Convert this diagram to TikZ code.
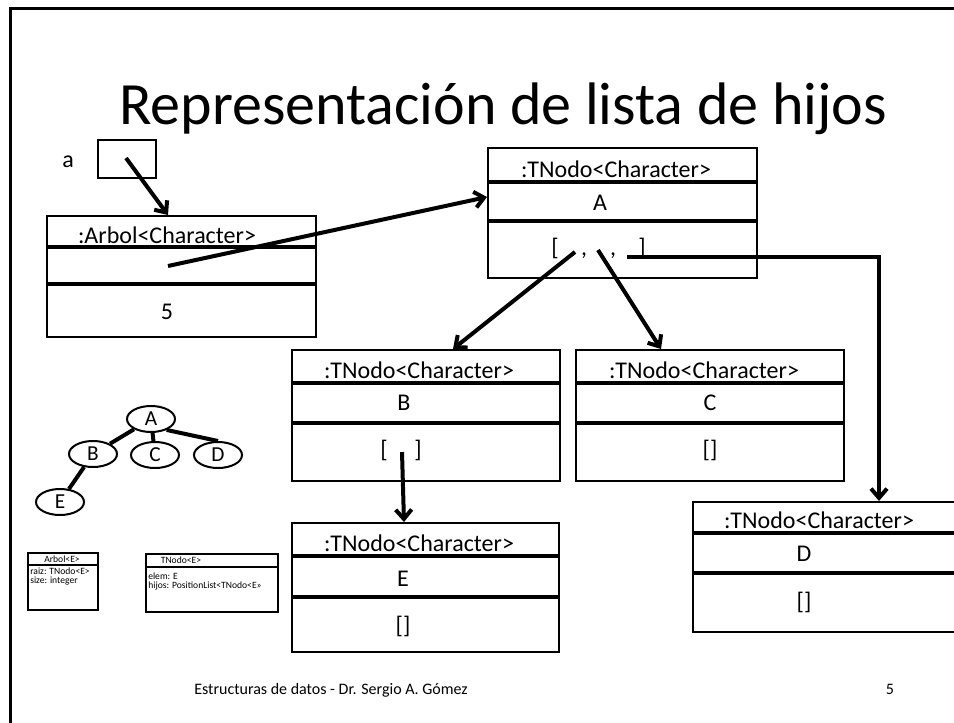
\documentclass[tikz,border=0pt]{standalone}
\usepackage{fontspec}
\setmainfont{Carlito}
\usetikzlibrary{arrows.meta,fit,shapes.geometric,calc}
\begin{document}
\begin{tikzpicture}[x=0.75pt,y=-0.75pt,
  box/.style={draw, line width=1.5pt, inner sep=0pt, rectangle},
  div/.style={line width=3.4pt},
  lbl/.style={font=\fontsize{18}{20}\selectfont, inner sep=0pt, anchor=base},
  ptr/.style={line width=3pt, -{Straight Barb[length=7pt,width=12pt]}},
  ell/.style={ellipse, draw, line width=1.5pt, minimum width=36pt, minimum height=19.5pt, inner sep=0pt, font=\fontsize{16}{18}\selectfont},
  tedge/.style={line width=3pt},
  ubox/.style={draw, line width=0.8pt, inner sep=0pt, rectangle},
  utxt/.style={font=\fontsize{7.2}{8}\selectfont, inner sep=0pt},
]
\path[use as bounding box] (0,0) rectangle (954,722);
\fill[white] (0,0) rectangle (954,722);
\clip (0,0) rectangle (954,722);
% frame
\draw[line width=2.25pt] (970,8) -- (10,8) -- (10,740);
% title
\node[anchor=base, font=\fontsize{45}{50}\selectfont, inner sep=0pt] (title) at (503,124) {Representación de lista de hijos};
% variable a
\node[lbl] (la) at (68,167) {a};
\node[box, fit={(98,140) (156,178)}] (va) {};
% Arbol box
\node[box, fit={(47,216) (316,337)}] (arbol) {};
\draw[div] (arbol.west |- 0,247) -- (arbol.east |- 0,247);
\draw[div] (arbol.west |- 0,284) -- (arbol.east |- 0,284);
\node[lbl] (arbolh) at (167,243) {:Arbol<Character>};
\node[lbl] (arbols) at (167,319) {5};
% Node A
\node[box, fit={(488,148) (757,278)}] (nA) {};
\draw[div] (nA.west |- 0,182) -- (nA.east |- 0,182);
\draw[div] (nA.west |- 0,221) -- (nA.east |- 0,221);
\node[lbl] (nAh) at (616,177) {:TNodo<Character>};
\node[lbl] (nAe) at (600,210) {A};
\node[lbl] (nAl1) at (555,255) {[};
\node[lbl] (nAc1) at (584,255) {,};
\node[lbl] (nAc2) at (613,255) {,};
\node[lbl] (nAl2) at (642,255) {]};
% Node B
\node[box, fit={(292,350) (560,481)}] (nB) {};
\draw[div] (nB.west |- 0,383) -- (nB.east |- 0,383);
\draw[div] (nB.west |- 0,423) -- (nB.east |- 0,423);
\node[lbl] (nBh) at (419,378) {:TNodo<Character>};
\node[lbl] (nBe) at (404,410) {B};
\node[lbl] (nBl1) at (384,457) {[};
\node[lbl] (nBl2) at (418,457) {]};
% Node C
\node[box, fit={(576,350) (844,481)}] (nC) {};
\draw[div] (nC.west |- 0,383) -- (nC.east |- 0,383);
\draw[div] (nC.west |- 0,423) -- (nC.east |- 0,423);
\node[lbl] (nCh) at (704,378) {:TNodo<Character>};
\node[lbl] (nCe) at (710,410) {C};
\node[lbl] (nCl) at (710,457) {[]};
% Node E
\node[box, fit={(292,523) (559,652)}] (nE) {};
\draw[div] (nE.west |- 0,556) -- (nE.east |- 0,556);
\draw[div] (nE.west |- 0,597) -- (nE.east |- 0,597);
\node[lbl] (nEh) at (419,551) {:TNodo<Character>};
\node[lbl] (nEe) at (403,586) {E};
\node[lbl] (nEl) at (403,633) {[]};
% Node D
\node[box, fit={(693,502) (962,632)}] (nD) {};
\draw[div] (nD.west |- 0,533) -- (nD.east |- 0,533);
\draw[div] (nD.west |- 0,573) -- (nD.east |- 0,573);
\node[lbl] (nDh) at (819,528) {:TNodo<Character>};
\node[lbl] (nDe) at (804,561) {D};
\node[lbl] (nDl) at (804,609) {[]};
% pointers
\coordinate (pa) at (126,158);
\coordinate (parbol) at (168,266);
\coordinate (pA1) at (575,252);
\coordinate (pA2) at (598,250);
\coordinate (pA3) at (627,257);
\coordinate (pB) at (402,452);
\draw[ptr] (pa) -- ($(arbol.north)+(-13.5,0)$);
\draw[ptr] (parbol) -- ($(nA.west)+(0,-16)$);
\draw[ptr] (pA1) -- ($(nB.north)+(27,0)$);
\draw[ptr] (pA2) -- ($(nC.north)+(-49,0)$);
\draw[ptr] (pA3) -| ($(nD.north west)+(187,0)$);
\draw[ptr] (pB) -- ($(nE.north)+(-21.5,0)$);
% tree
\node[ell] (tA) at (151,419) {A};
\node[ell] (tB) at (93,454) {B};
\node[ell] (tC) at (155,455) {C};
\node[ell] (tD) at (218,455) {D};
\node[ell] (tE) at (60,502) {E};
\draw[tedge] (tA) -- (tB);
\draw[tedge] (tA) -- (tC);
\draw[tedge] (tA.-35) -- (tD.north);
\draw[tedge] (tB) -- (tE);
% small UML classes
\node[ubox, fit={(28,553) (98,610)}] (uA) {};
\draw[line width=0.8pt] (uA.west |- 0,565) -- (uA.east |- 0,565);
\node[utxt] (uAt) at (62,559) {Arbol<E>};
\node[utxt, anchor=west] (uA1) at (30,571) {raiz: TNodo<E>};
\node[utxt, anchor=west] (uA2) at (30,581) {size: integer};
\node[ubox, fit={(146,554) (278,612)}] (uN) {};
\draw[line width=0.8pt] (uN.west |- 0,567) -- (uN.east |- 0,567);
\node[utxt] (uNt) at (181,560) {TNodo<E>};
\node[utxt, anchor=west] (uN1) at (148,576) {elem: E};
\node[utxt, anchor=west] (uN2) at (148,586) {hijos: PositionList<TNodo<E>>};
% footer
\node[anchor=base west, font=\fontsize{12}{14}\selectfont, inner sep=0pt] (foot) at (194,694) {Estructuras de datos - Dr. Sergio A. Gómez};
\node[anchor=base, font=\fontsize{12}{14}\selectfont, inner sep=0pt] (pg) at (890,694) {5};
\end{tikzpicture}
\end{document}
